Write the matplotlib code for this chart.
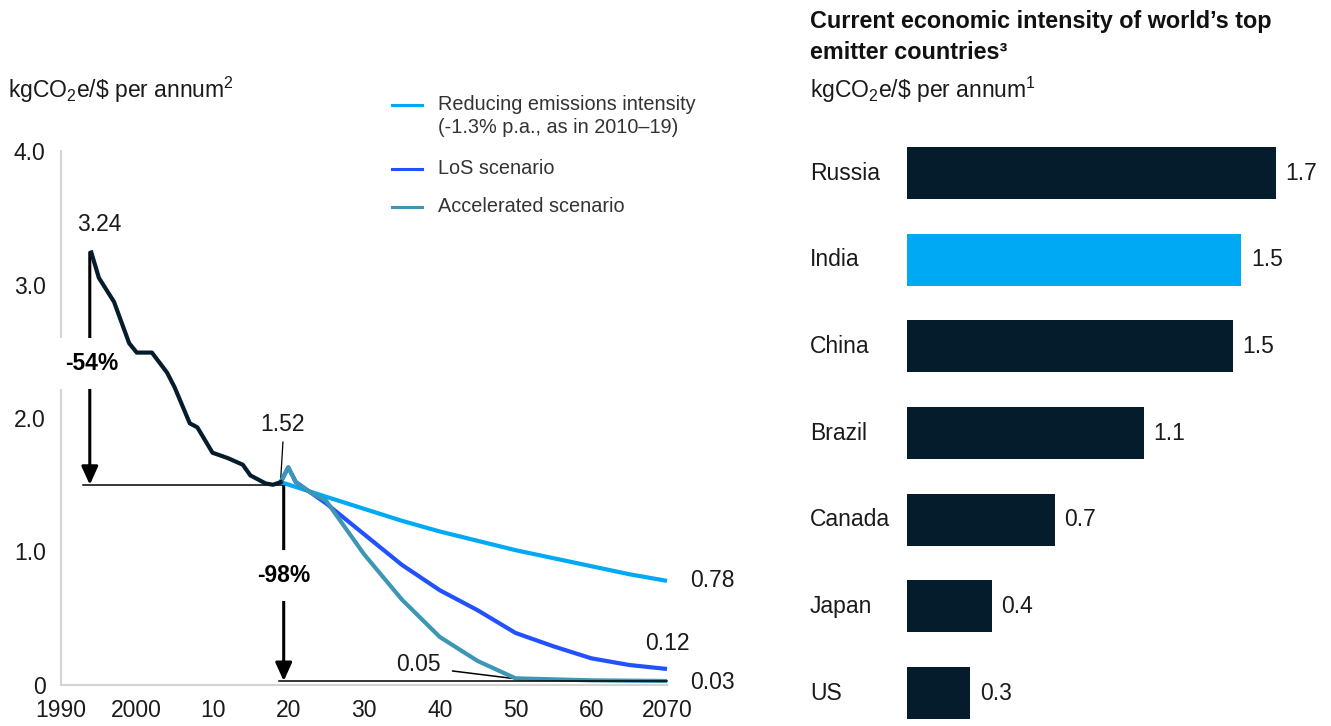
import matplotlib
matplotlib.use("Agg")
import matplotlib.pyplot as plt
from matplotlib.lines import Line2D

plt.rcParams['font.family'] = ['Liberation Sans', 'DejaVu Sans']
plt.rcParams['mathtext.fontset'] = 'custom'
plt.rcParams['mathtext.rm'] = 'Liberation Sans'
plt.rcParams['mathtext.it'] = 'Liberation Sans:italic'
plt.rcParams['mathtext.bf'] = 'Liberation Sans:bold'

# ----------------------------
# Data
# ----------------------------
hist_years = [1994, 1995, 1997, 1999, 2000, 2002, 2004, 2005, 2007, 2008,
              2010, 2012, 2014, 2015, 2017, 2018, 2019]
hist_vals = [3.24, 3.05, 2.87, 2.56, 2.49, 2.49, 2.34, 2.23, 1.96, 1.93,
             1.74, 1.70, 1.65, 1.57, 1.51, 1.50, 1.52]

reduce_years = [2019, 2025, 2030, 2035, 2040, 2045, 2050, 2055, 2060, 2065, 2070]
reduce_vals = [1.52, 1.41, 1.32, 1.23, 1.15, 1.08, 1.01, 0.95, 0.89, 0.83, 0.78]

los_years = [2019, 2020, 2021, 2023, 2025, 2030, 2035, 2040, 2045, 2050,
             2055, 2060, 2065, 2070]
los_vals = [1.52, 1.63, 1.52, 1.44, 1.36, 1.13, 0.90, 0.71, 0.56, 0.39,
            0.29, 0.20, 0.15, 0.12]

acc_years = [2019, 2020, 2021, 2023, 2025, 2030, 2035, 2040, 2045, 2050,
             2060, 2070]
acc_vals = [1.52, 1.63, 1.52, 1.44, 1.38, 0.98, 0.64, 0.36, 0.18, 0.05,
            0.035, 0.03]

x_ticks = [1990, 2000, 2010, 2020, 2030, 2040, 2050, 2060, 2070]
x_tick_labels = ['1990', '2000', '10', '20', '30', '40', '50', '60', '2070']
y_ticks = [0, 1, 2, 3, 4]
y_tick_labels = ['0', '1.0', '2.0', '3.0', '4.0']

countries = ['Russia', 'India', 'China', 'Brazil', 'Canada', 'Japan', 'US']
intensity = [1.70, 1.54, 1.50, 1.09, 0.68, 0.39, 0.29]

legend_labels = ['Reducing emissions intensity\n(-1.3% p.a., as in 2010\u201319)',
                 'LoS scenario', 'Accelerated scenario']

# colours
NAVY = '#051c2c'
CYAN = '#00a9f4'
BLUE = '#2251ff'
TEAL = '#3c96b4'
GREY = '#d4d4d4'
TXT = '#1a1a1a'

FS = 16.5  # main text size

W, H = 1331, 726
fig = plt.figure(figsize=(W / 100, H / 100), dpi=100)


def fx(px):
    return px / W


def fy(py):
    return 1 - py / H


# ----------------------------
# Left: intensity over time
# ----------------------------
ax = fig.add_axes([fx(61), fy(685), fx(606), 534 / H])
ax.set_xlim(1990, 2070)
ax.set_ylim(0, 4)
for s in ['top', 'right']:
    ax.spines[s].set_visible(False)
for s in ['left', 'bottom']:
    ax.spines[s].set_color(GREY)
    ax.spines[s].set_linewidth(1.5)
ax.set_xticks(x_ticks)
ax.set_xticklabels(x_tick_labels)
ax.set_yticks(y_ticks)
ax.set_yticklabels(y_tick_labels)
ax.tick_params(length=0, labelsize=FS, colors=TXT)
ax.tick_params(axis='y', pad=11)
ax.tick_params(axis='x', pad=10)

ax.plot(reduce_years, reduce_vals, color=CYAN, lw=3, solid_capstyle='butt', clip_on=False, zorder=3)
ax.plot(los_years, los_vals, color=BLUE, lw=3, solid_capstyle='butt', clip_on=False, zorder=3.1)
ax.plot(acc_years, acc_vals, color=TEAL, lw=3, solid_capstyle='butt', clip_on=False, zorder=3.2)
ax.plot(hist_years, hist_vals, color=NAVY, lw=3, clip_on=False, zorder=5)

# reference lines
ax.plot([1992.9, 2020.3], [1.50, 1.50], color='black', lw=1.1, zorder=2)
ax.plot([2018.8, 2070], [0.03, 0.03], color='black', lw=1.1, zorder=3.5, clip_on=False)

arrow = dict(arrowstyle='-|>,head_length=0.55,head_width=0.25', lw=2.2,
             color='black', shrinkA=0, shrinkB=0, mutation_scale=20)
ax.annotate('', xy=(1993.8, 1.50), xytext=(1993.8, 3.24), arrowprops=arrow, zorder=2)
ax.annotate('', xy=(2019.4, 0.03), xytext=(2019.4, 1.50), arrowprops=arrow, zorder=2)

box = dict(boxstyle='square,pad=0.6', fc='white', ec='none')
ax.text(1994.0, 2.41, '-54%', fontsize=FS, fontweight='bold', ha='center', va='center',
        bbox=box, zorder=4)
ax.text(2019.4, 0.82, '-98%', fontsize=FS, fontweight='bold', ha='center', va='center',
        bbox=box, zorder=4)

ax.text(1995.1, 3.45, '3.24', fontsize=FS, ha='center', va='center', color=TXT)
ax.text(2019.3, 1.95, '1.52', fontsize=FS, ha='center', va='center', color=TXT)
ax.plot([2019.3, 2019.0], [1.82, 1.54], color='black', lw=0.9)
ax.text(2037.2, 0.15, '0.05', fontsize=FS, ha='center', va='center', color=TXT)
ax.plot([2041.7, 2049.5], [0.105, 0.05], color='black', lw=1.1)
ax.text(2073.0, 0.78, '0.78', fontsize=FS, ha='left', va='center', color=TXT)
ax.text(2070.0, 0.31, '0.12', fontsize=FS, ha='center', va='center', color=TXT)
ax.text(2073.0, 0.02, '0.03', fontsize=FS, ha='left', va='center', color=TXT)

fig.text(fx(8), fy(90), r'kgCO$_\mathregular{2}$e/\$ per annum$^\mathregular{2}$',
         fontsize=FS, va='center', ha='left', color=TXT)

# legend drawn by hand
legend_colors = [CYAN, BLUE, TEAL]
legend_y = [105, 169, 207]
for lab, col, ly in zip(legend_labels, legend_colors, legend_y):
    fig.add_artist(Line2D([fx(392), fx(422)], [fy(ly), fy(ly)], color=col, lw=2.2))
    fig.text(fx(438), fy(ly - 10), lab, fontsize=14.3, va='top', ha='left',
             color='#333333', linespacing=1.25)

# ----------------------------
# Right: bar chart by country
# ----------------------------
ax2 = fig.add_axes([fx(907), fy(719), fx(434), 589.3 / H])
ax2.set_xlim(0, 2.0)
ax2.set_ylim(6.3, -0.5)
ax2.axis('off')
pos = list(range(len(countries)))
colors = [CYAN if c == 'India' else NAVY for c in countries]
ax2.barh(pos, intensity, height=0.6, color=colors)
for i, (c, v) in enumerate(zip(countries, intensity)):
    ax2.annotate(f'{v:.1f}', xy=(v, i), xytext=(7, 0), textcoords='offset points',
                 fontsize=FS, va='center', ha='left', color=TXT)
    ax2.text(-97 / 434, i, c, transform=ax2.get_yaxis_transform(), fontsize=FS,
             va='center', ha='left', color=TXT)

fig.text(fx(810), fy(10), 'Current economic intensity of world\u2019s top\nemitter countries\u00b3',
         fontsize=16.8, fontweight='bold', va='top', ha='left', linespacing=1.45, color='#111111')
fig.text(fx(810), fy(90), r'kgCO$_\mathregular{2}$e/\$ per annum$^\mathregular{1}$',
         fontsize=FS, va='center', ha='left', color=TXT)

fig.savefig('out.png', dpi=100)
